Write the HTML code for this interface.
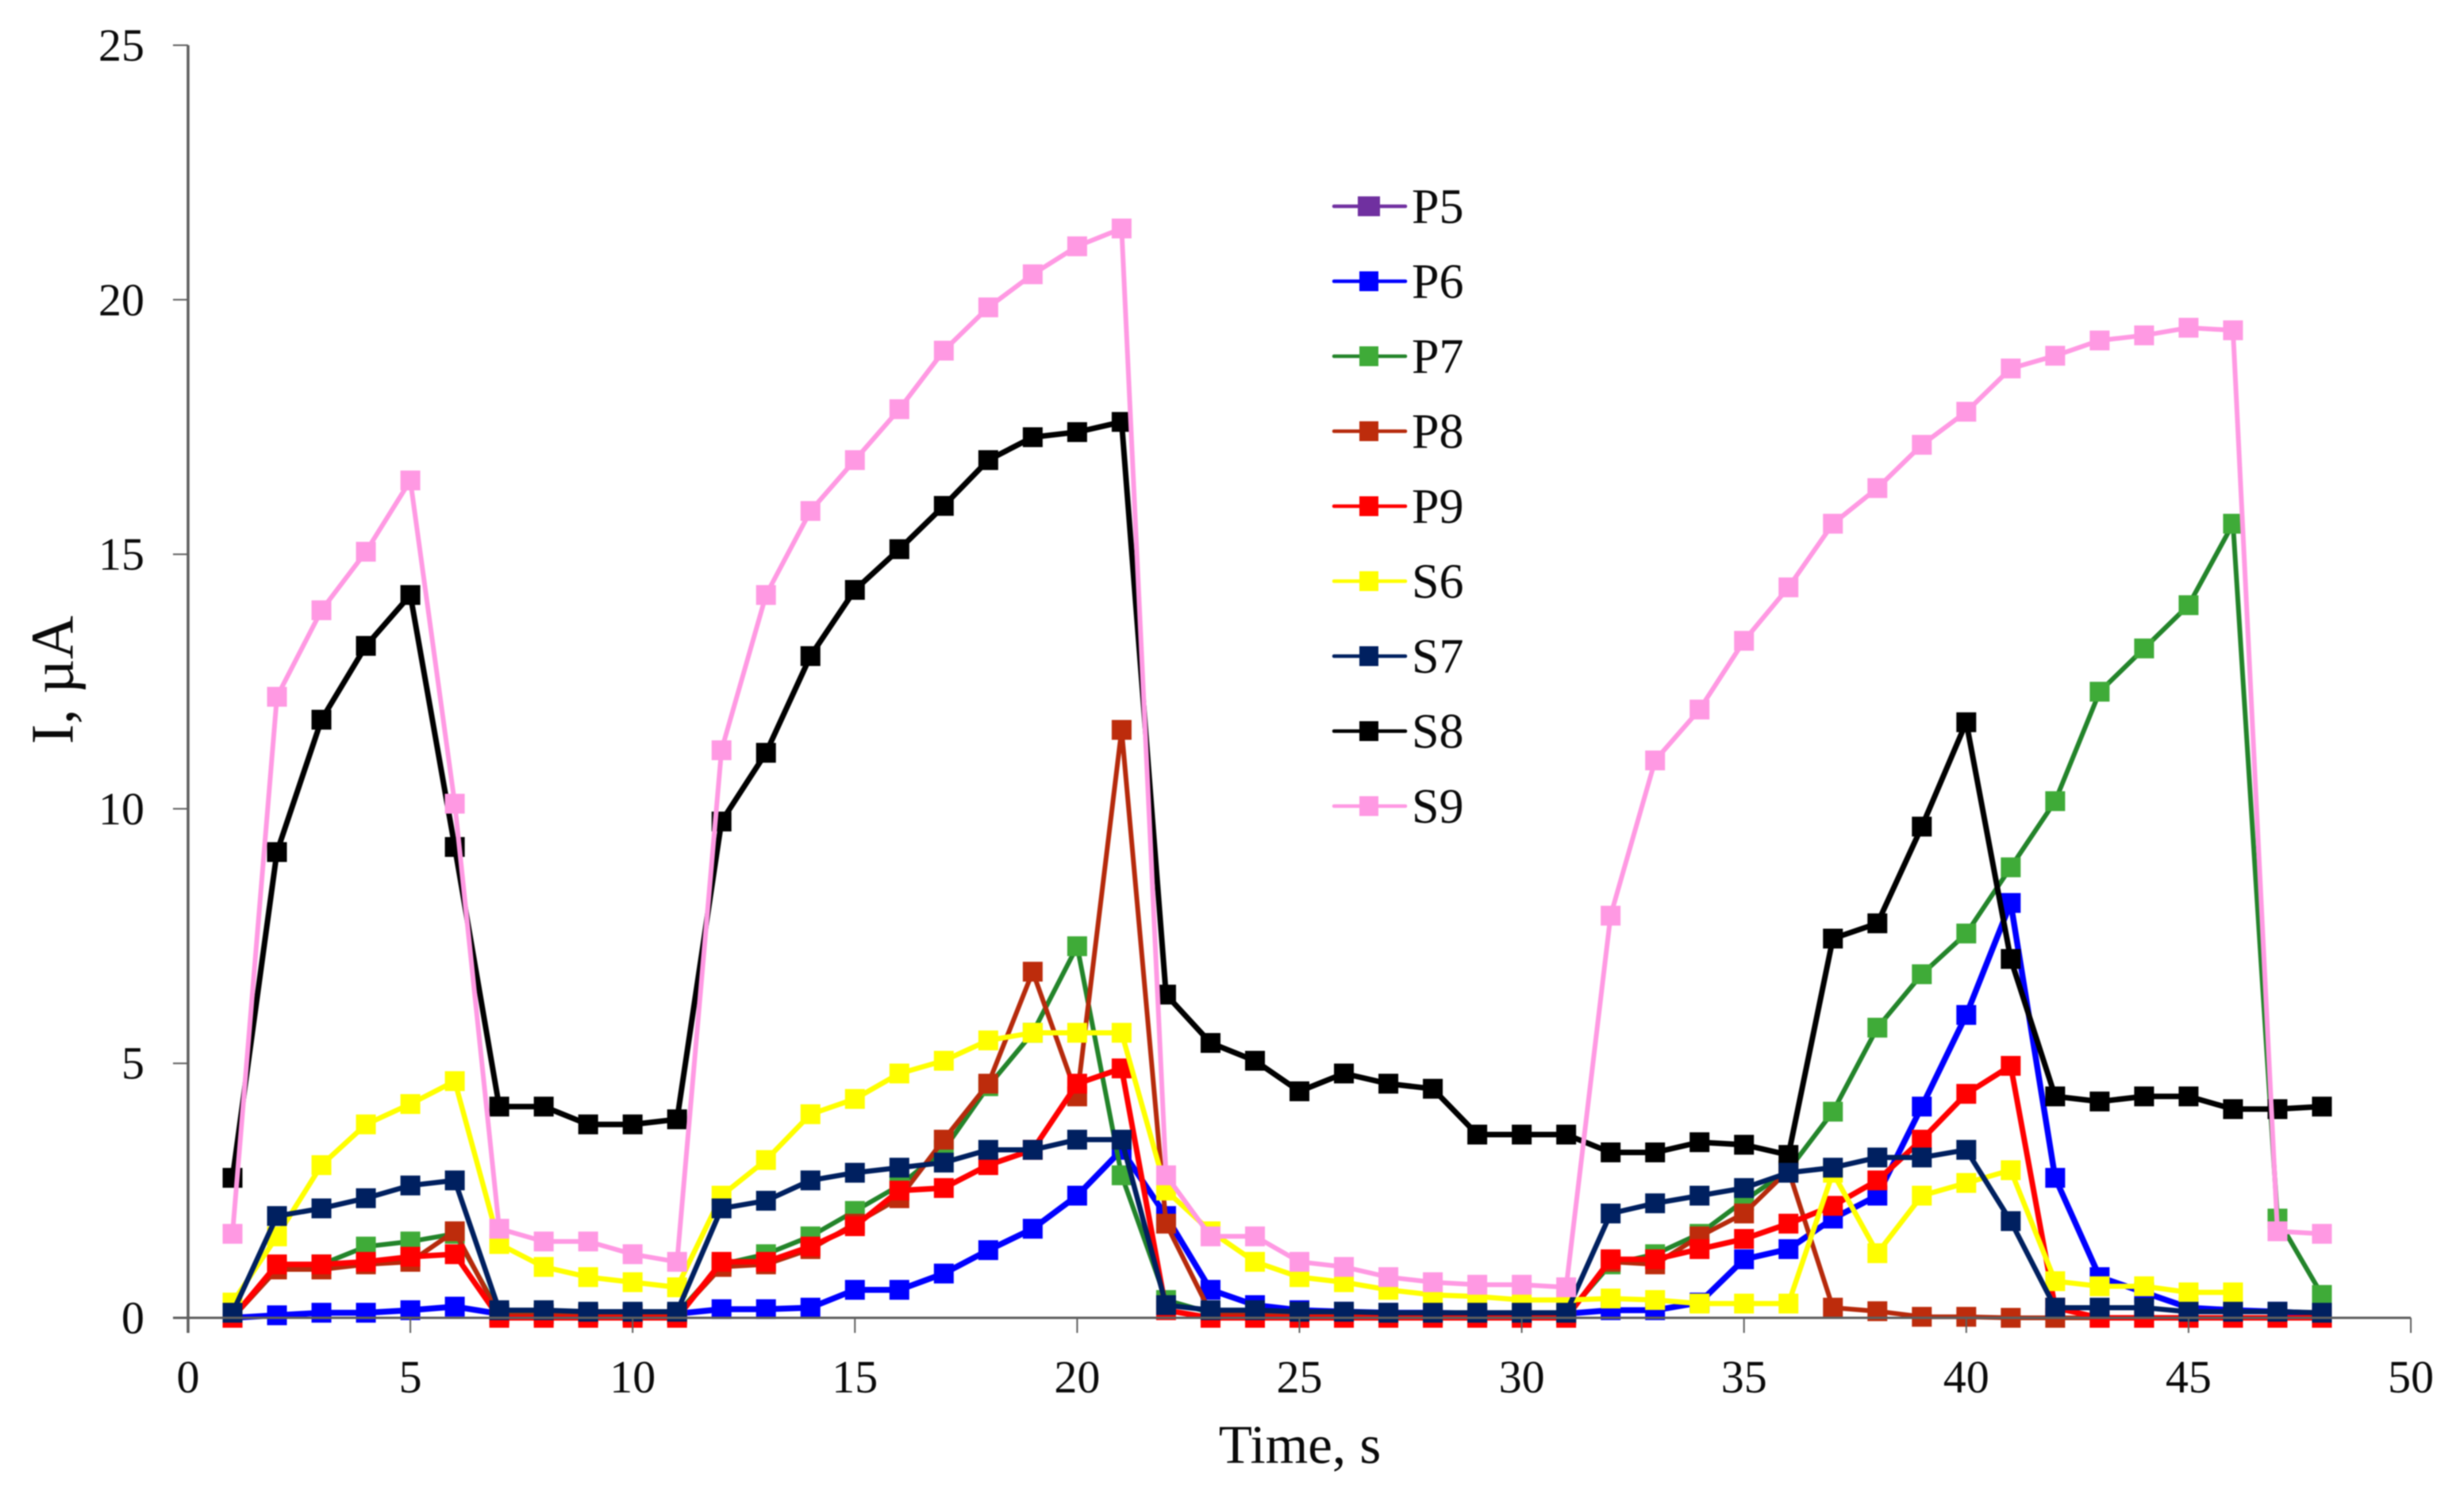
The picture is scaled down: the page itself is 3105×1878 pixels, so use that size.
<!DOCTYPE html>
<html lang="en">
<head>
<meta charset="utf-8">
<title>Current vs time chart</title>
<style>
  html, body { margin: 0; padding: 0; background: #ffffff; width: 3105px; height: 1878px; overflow: hidden; }
  svg { display: block; filter: blur(0.8px); }
  text { font-family: "Liberation Serif", "Times New Roman", serif; fill: #0a0a0a; }
</style>
</head>
<body>
<svg id="chart" xmlns="http://www.w3.org/2000/svg" width="3105" height="1878" viewBox="0 0 3105 1878">
  <rect x="0" y="0" width="3105" height="1878" fill="#ffffff"></rect>
  <g id="series-layer"></g>
  <g id="axes-layer"></g>
  <g id="legend-layer"></g>
  <text x="1638" y="1844" font-size="69" text-anchor="middle">Time, s</text>
  <text transform="translate(91.5 857) rotate(-90)" font-size="76" text-anchor="middle">I, µA</text>
</svg>
<script>
// ---- Data ----
const timeSeconds = [1,2,3,4,5,6,7,8,9,10,11,12,13,14,15,16,17,18,19,20,21,22,23,24,25,26,27,28,29,30,31,32,33,34,35,36,37,38,39,40,41,42,43,44,45,46,47,48];
const xTickLabels = [0,5,10,15,20,25,30,35,40,45,50];
const yTickLabels = [0,5,10,15,20,25];

const p5Values = [];
const p6Values = [0,0.05,0.1,0.1,0.15,0.22,0.08,0.08,0.08,0.08,0.08,0.17,0.17,0.2,0.55,0.55,0.87,1.33,1.75,2.4,3.3,2.0,0.55,0.25,0.15,0.12,0.1,0.1,0.08,0.08,0.08,0.15,0.15,0.3,1.15,1.35,1.95,2.4,4.15,5.95,8.15,2.75,0.8,0.5,0.2,0.15,0.12,0.08];
const p7Values = [0,1.0,1.05,1.4,1.5,1.65,0.1,0.08,0.08,0.08,0.08,1.05,1.25,1.6,2.1,2.6,3.3,4.55,5.6,7.3,2.8,0.35,0.1,0.1,0.08,0.08,0.05,0.05,0.05,0.05,0.05,1.05,1.25,1.65,2.3,2.9,4.05,5.7,6.75,7.55,8.85,10.15,12.3,13.15,14.0,15.6,1.95,0.45];
const p8Values = [0,0.95,0.95,1.05,1.1,1.7,0.05,0.05,0.05,0.05,0.05,1.0,1.05,1.35,1.85,2.35,3.5,4.6,6.8,4.35,11.55,1.85,0.1,0.1,0.05,0.05,0.05,0.05,0.05,0.05,0.05,1.1,1.05,1.6,2.05,2.9,0.2,0.13,0.02,0.02,0,0,0,0,0,0,0,0];
const p9Values = [0,1.05,1.05,1.1,1.2,1.25,0,0,0,0,0,1.1,1.1,1.4,1.8,2.5,2.55,3.0,3.3,4.6,4.9,0.15,0,0,0,0,0,0,0,0,0,1.15,1.15,1.35,1.55,1.85,2.2,2.7,3.5,4.4,4.95,0.2,0,0,0,0,0,0];
const s6Values = [0.3,1.6,3.0,3.8,4.2,4.65,1.45,1.0,0.8,0.7,0.6,2.4,3.1,4.0,4.3,4.8,5.05,5.45,5.6,5.6,5.6,2.5,1.7,1.1,0.8,0.7,0.55,0.45,0.42,0.35,0.35,0.38,0.35,0.28,0.28,0.28,2.85,1.27,2.4,2.65,2.9,0.72,0.62,0.62,0.5,0.5];
const s7Values = [0.1,2.0,2.15,2.35,2.6,2.7,0.15,0.15,0.12,0.12,0.12,2.15,2.3,2.7,2.85,2.95,3.05,3.3,3.3,3.5,3.5,0.25,0.15,0.15,0.12,0.12,0.1,0.1,0.1,0.1,0.1,2.05,2.25,2.4,2.55,2.85,2.95,3.15,3.15,3.3,1.9,0.2,0.2,0.2,0.12,0.12,0.12,0.1];
const s8Values = [2.75,9.15,11.75,13.2,14.2,9.25,4.15,4.15,3.8,3.8,3.9,9.75,11.1,13.0,14.3,15.1,15.95,16.85,17.3,17.4,17.6,6.35,5.4,5.05,4.45,4.8,4.6,4.5,3.6,3.6,3.6,3.25,3.25,3.45,3.4,3.2,7.45,7.75,9.65,11.7,7.05,4.35,4.25,4.35,4.35,4.1,4.1,4.15];
const s9Values = [1.65,12.2,13.9,15.05,16.45,10.1,1.75,1.5,1.5,1.25,1.1,11.15,14.2,15.85,16.85,17.85,19.0,19.85,20.5,21.05,21.4,2.8,1.6,1.6,1.1,1.0,0.8,0.7,0.65,0.65,0.6,7.9,10.95,11.95,13.3,14.35,15.6,16.3,17.15,17.8,18.65,18.9,19.2,19.3,19.45,19.4,1.7,1.65];

// ---- Series styling ----
const seriesDefs = [
  { name: 'P5', values: p5Values, line: '#7030a0', fill: '#7030a0', width: 6, legendWide: true },
  { name: 'P6', values: p6Values, line: '#0000ff', fill: '#0000ff', width: 7.5 },
  { name: 'P7', values: p7Values, line: '#23842a', fill: '#3fab38', width: 6 },
  { name: 'P8', values: p8Values, line: '#b62a0c', fill: '#bd2c0c', width: 6 },
  { name: 'P9', values: p9Values, line: '#ff0000', fill: '#ff0000', width: 7 },
  { name: 'S6', values: s6Values, line: '#ffff00', fill: '#ffff00', width: 6.5 },
  { name: 'S7', values: s7Values, line: '#002060', fill: '#002060', width: 6.5 },
  { name: 'S8', values: s8Values, line: '#000000', fill: '#000000', width: 7 },
  { name: 'S9', values: s9Values, line: '#ff99e3', fill: '#ff99e3', width: 6 }
];
const drawOrder = ['P5', 'P6', 'P7', 'P8', 'P9', 'S6', 'S8', 'S7', 'S9'];

// ---- Axis functions ----
const SVG_NS = 'http://www.w3.org/2000/svg';
const X0 = 237, X1 = 3038, XMAX = 50;
const Y0 = 1661, Y1 = 57, YMAX = 25;
function xScale(v) { return X0 + (v / XMAX) * (X1 - X0); }
function yScale(v) { return Y0 - (v / YMAX) * (Y0 - Y1); }
function make(tag, attrs) {
  const node = document.createElementNS(SVG_NS, tag);
  for (const key in attrs) node.setAttribute(key, attrs[key]);
  return node;
}

// ---- Series ----
const seriesLayer = document.getElementById('series-layer');
const MARKER = 25;
drawOrder.forEach(function (name) {
  const def = seriesDefs.find(function (s) { return s.name === name; });
  const group = make('g', {});
  
  
  const pts = def.values.map(function (v, i) {
    return xScale(timeSeconds[i]).toFixed(1) + ',' + yScale(v).toFixed(1);
  });
  if (pts.length) {
    const line = make('polyline', { points: pts.join(' '), fill: 'none', stroke: def.line, 'stroke-width': def.width, 'stroke-linejoin': 'miter', 'stroke-miterlimit': 3 });
    
    
    group.appendChild(line);
  }
  def.values.forEach(function (v, i) {
    const mark = make('rect', { x: xScale(timeSeconds[i]) - MARKER / 2, y: yScale(v) - MARKER / 2, width: MARKER, height: MARKER, fill: def.fill });
    
    
    group.appendChild(mark);
  });
  seriesLayer.appendChild(group);
});

// ---- Axes ----
const axesLayer = document.getElementById('axes-layer');
const TICK = 19;
const yAxisLine = make('line', { x1: X0, y1: Y1, x2: X0, y2: Y0 + TICK, stroke: '#5e5e5e', 'stroke-width': 3.5 });


axesLayer.appendChild(yAxisLine);
const xAxisLine = make('line', { x1: X0 - TICK, y1: Y0, x2: X1, y2: Y0, stroke: '#5e5e5e', 'stroke-width': 3 });


axesLayer.appendChild(xAxisLine);

xTickLabels.forEach(function (v) {
  const tick = make('line', { x1: xScale(v), y1: Y0, x2: xScale(v), y2: Y0 + TICK, stroke: '#5e5e5e', 'stroke-width': 2 });
  
  
  axesLayer.appendChild(tick);
  const label = make('text', { x: xScale(v), y: 1755, 'font-size': 58, 'text-anchor': 'middle' });
  
  
  label.textContent = String(v);
  axesLayer.appendChild(label);
});

yTickLabels.forEach(function (v) {
  const tick = make('line', { x1: X0 - TICK, y1: yScale(v), x2: X0, y2: yScale(v), stroke: '#5e5e5e', 'stroke-width': 2 });
  
  
  axesLayer.appendChild(tick);
  const label = make('text', { x: 182, y: yScale(v) + 19.5, 'font-size': 58, 'text-anchor': 'end' });
  
  
  label.textContent = String(v);
  axesLayer.appendChild(label);
});

// ---- Legend ----
const legendLayer = document.getElementById('legend-layer');
const LEGEND_TOP = 260, LEGEND_STEP = 94.5;
seriesDefs.forEach(function (def, i) {
  const cy = LEGEND_TOP + i * LEGEND_STEP;
  const entry = make('g', {});
  
  
  const swatch = make('line', { x1: 1681, y1: cy, x2: 1771, y2: cy, stroke: def.line, 'stroke-width': 4.5, 'stroke-linecap': 'round' });
  
  
  entry.appendChild(swatch);
  const w = def.legendWide ? 28 : 24;
  const box = make('rect', { x: 1725 - w / 2, y: cy - 12.5, width: w, height: 25, fill: def.fill });
  
  
  entry.appendChild(box);
  const label = make('text', { x: 1779, y: cy + 21, 'font-size': 62 });
  
  
  label.textContent = def.name;
  entry.appendChild(label);
  legendLayer.appendChild(entry);
});
</script>
</body>
</html>
